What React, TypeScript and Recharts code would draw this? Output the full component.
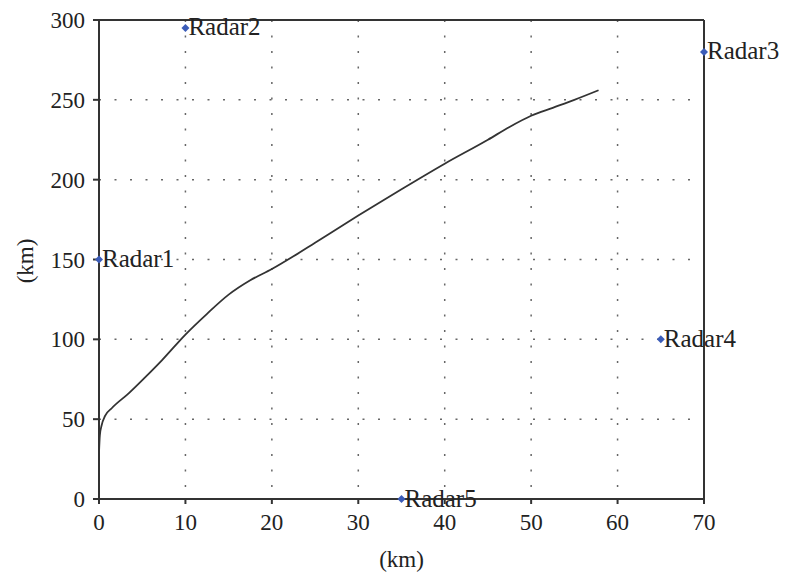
import React from 'react';
import {
  ComposedChart,
  Line,
  Scatter,
  XAxis,
  YAxis,
  CartesianGrid,
  ReferenceLine,
  Label,
} from 'recharts';

// 궤적 (km)
const trackX = [0, 0.1, 0.3, 0.7, 1.5, 3.4, 5.3, 7.3, 10, 12.5, 15, 17.5, 20, 22.5, 25, 30, 35, 40, 45, 47.5, 50, 52.5, 55, 57.8];
const trackY = [29, 40, 46, 52, 57, 66, 76, 87, 103, 116, 128, 137, 144, 152, 160.5, 177.5, 194, 210, 225, 233, 240, 245, 250, 256];

// 레이더 위치
const radarNames = ['Radar1', 'Radar2', 'Radar3', 'Radar4', 'Radar5'];
const radarX = [0, 10, 70, 65, 35];
const radarY = [150, 295, 280, 100, 0];

const xTicks = [0, 10, 20, 30, 40, 50, 60, 70];
const yTicks = [0, 50, 100, 150, 200, 250, 300];

const track = trackX.map((x, i) => ({ x, y: trackY[i] }));
const radars = radarNames.map((name, i) => ({ name, x: radarX[i], y: radarY[i] }));

const FONT = '"Liberation Serif", "DejaVu Serif", serif';
const tickStyle = { fill: '#222', fontSize: 23, fontFamily: FONT };

const RadarMark = (props: any) => {
  const { cx, cy, payload } = props;
  if (cx == null || cy == null) return null;
  return (
    <g>
      <path
        d={`M${cx - 4},${cy} L${cx},${cy - 4} L${cx + 4},${cy} L${cx},${cy + 4} Z`}
        fill="#3b5cb8"
      />
      <text
        x={cx + 3}
        y={cy - 1}
        dominantBaseline="central"
        fill="#222"
        fontSize={25}
        fontFamily={FONT}
      >
        {payload.name}
      </text>
    </g>
  );
};

export default function App() {
  return (
    <div style={{ position: 'absolute', left: 0, top: 0, background: '#fff' }}>
      <ComposedChart
        width={786}
        height={575}
        margin={{ top: 20, right: 82, bottom: 0, left: 0 }}
      >
        <CartesianGrid
          stroke="#666"
          strokeWidth={1.5}
          strokeDasharray="2 13.5"
        />
        <XAxis
          type="number"
          dataKey="x"
          domain={[0, 70]}
          ticks={xTicks}
          height={76}
          axisLine={{ stroke: '#333', strokeWidth: 2 }}
          tickLine={{ stroke: '#333', strokeWidth: 2 }}
          tickSize={5}
          tickMargin={10}
          tick={tickStyle}
          interval={0}
        >
          <Label
            value="(km)"
            position="insideBottom"
            offset={8}
            style={{ fill: '#222', fontSize: 23, fontFamily: FONT }}
          />
        </XAxis>
        <YAxis
          type="number"
          dataKey="y"
          domain={[0, 300]}
          ticks={yTicks}
          width={99}
          axisLine={{ stroke: '#333', strokeWidth: 2 }}
          tickLine={{ stroke: '#333', strokeWidth: 2 }}
          tickSize={6}
          tickMargin={8}
          tick={tickStyle}
          interval={0}
        >
          <Label
            content={() => (
              <text
                x={25}
                y={261}
                transform="rotate(-90 25 261)"
                textAnchor="middle"
                dominantBaseline="central"
                fill="#222"
                fontSize={23}
                fontFamily={FONT}
              >
                (km)
              </text>
            )}
          />
        </YAxis>
        <ReferenceLine y={300} stroke="#333" strokeWidth={2} />
        <ReferenceLine x={70} stroke="#333" strokeWidth={2} />
        <Line
          data={track}
          dataKey="y"
          type="monotone"
          stroke="#333"
          strokeWidth={1.8}
          dot={false}
          isAnimationActive={false}
        />
        <Scatter
          data={radars}
          dataKey="y"
          shape={RadarMark}
          isAnimationActive={false}
        />
      </ComposedChart>
    </div>
  );
}
